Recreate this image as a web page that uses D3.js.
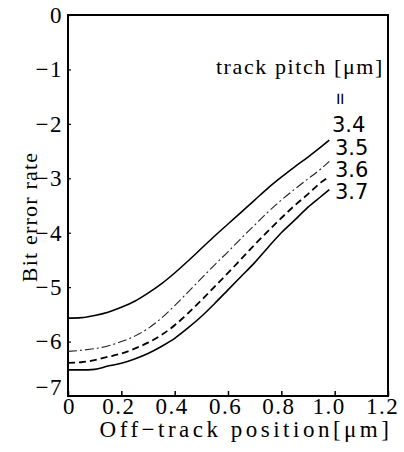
<!DOCTYPE html>
<html>
<head>
<meta charset="utf-8">
<script src="https://d3js.org/d3.v7.min.js"></script>
<style>
  body { margin: 0; background: #fff; }
  svg text { font-family: "Liberation Serif", "Times New Roman", Times, "DejaVu Serif", "Noto Serif", serif; fill: #000; }
</style>
</head>
<body>
<div id="chart"></div>
<script>
// off-track position [um]
var offTrack = [0, 0.05, 0.1, 0.15, 0.2, 0.25, 0.3, 0.35, 0.4, 0.45, 0.5, 0.55, 0.6, 0.65, 0.7, 0.75, 0.8, 0.85, 0.9, 0.95, 0.98];

// log10 bit error rate, one array per track pitch
var ber34 = [-5.57, -5.56, -5.52, -5.46, -5.37, -5.26, -5.11, -4.94, -4.74, -4.52, -4.29, -4.06, -3.84, -3.62, -3.40, -3.18, -2.98, -2.79, -2.61, -2.42, -2.30];
var ber35 = [-6.18, -6.16, -6.13, -6.08, -6.00, -5.90, -5.76, -5.57, -5.34, -5.09, -4.84, -4.59, -4.35, -4.10, -3.86, -3.62, -3.40, -3.20, -3.01, -2.82, -2.69];
var ber36 = [-6.39, -6.38, -6.34, -6.28, -6.22, -6.13, -6.02, -5.88, -5.70, -5.48, -5.24, -4.99, -4.74, -4.48, -4.22, -3.97, -3.73, -3.50, -3.29, -3.07, -2.97];
var ber37 = [-6.52, -6.52, -6.51, -6.45, -6.40, -6.32, -6.22, -6.09, -5.94, -5.75, -5.54, -5.30, -5.05, -4.80, -4.55, -4.27, -4.00, -3.77, -3.53, -3.33, -3.21];

var pitches = ["3.4", "3.5", "3.6", "3.7"];
var xTicks = [0, 0.2, 0.4, 0.6, 0.8, 1.0, 1.2];
var yTicks = [0, -1, -2, -3, -4, -5, -6, -7];

var series = [
  [pitches[0], ber34, null, 1.6, "#000"],
  [pitches[1], ber35, "9,3,2,3", 1.1, "#222"],
  [pitches[2], ber36, "7,4", 1.8, "#000"],
  [pitches[3], ber37, null, 1.6, "#000"]
];

var serif = "'Liberation Serif', 'Times New Roman', Times, 'DejaVu Serif', serif";

var width = 404, height = 452;

var xScale = d3.scaleLinear()
  .domain([0, 1.2])
  .range([68, 388]);

var yScale = d3.scaleLinear()
  .domain([-7, 0])
  .range([396, 15]);

var svg = d3.select("#chart").append("svg")
    .attr("width", width)
    .attr("height", height);

svg.append("rect")
  .attr("width", width)
  .attr("height", height)
  .attr("fill", "#fff");

// frame
svg.append("rect")
  .attr("x", xScale(0))
  .attr("y", yScale(0))
  .attr("width", xScale(1.2) - xScale(0))
  .attr("height", yScale(-7) - yScale(0))
  .attr("fill", "none")
  .attr("stroke", "#000")
  .attr("stroke-width", 2);

// x axis, ticks pointing inward
var xAxis = svg.append("g")
  .attr("class", "x axis")
  .attr("transform", "translate(0," + yScale(-7) + ")")
  .call(d3.axisBottom(xScale)
    .tickValues(xTicks)
    .tickSizeInner(-5)
    .tickSizeOuter(0)
    .tickPadding(3)
    .tickFormat(function(d) { return d === 0 ? "0" : d3.format(".1f")(d); }));

xAxis.attr("font-family", serif);
xAxis.select(".domain").remove();
xAxis.selectAll("line").attr("stroke-width", 1.5);
xAxis.selectAll("text")
  .attr("font-size", 23)
  .attr("letter-spacing", 1.5)
  .attr("dx", function(d) { return d === 0 ? 1 : (d >= 1 ? -6 : -3); })
  .attr("dy", "0.66em");

// y axis
var yAxis = svg.append("g")
  .attr("class", "y axis")
  .attr("transform", "translate(" + xScale(0) + ",0)")
  .call(d3.axisLeft(yScale)
    .tickValues(yTicks)
    .tickSizeInner(-3)
    .tickSizeOuter(0)
    .tickPadding(5)
    .tickFormat(d3.format("d")));

yAxis.attr("font-family", serif);
yAxis.select(".domain").remove();
yAxis.selectAll("line").attr("stroke-width", 1.2);
yAxis.selectAll("text")
  .attr("font-size", 23)
  .attr("letter-spacing", 1.5);
yAxis.selectAll(".tick")
  .filter(function(d) { return d === -7; })
  .select("text")
  .attr("dy", "-0.05em");

// curves
var line = d3.line()
  .x(function(d, i) { return xScale(offTrack[i]); })
  .y(function(d) { return yScale(d); })
  .curve(d3.curveMonotoneX);

for (var s in series) {
  svg.append("path")
    .datum(series[s][1])
    .attr("class", "line")
    .attr("fill", "none")
    .attr("stroke", series[s][4])
    .attr("stroke-width", series[s][3])
    .attr("stroke-dasharray", series[s][2])
    .attr("d", line);
}

// curve labels
var labelY = [132, 155, 177, 199];
for (var p in pitches) {
  svg.append("text")
    .attr("x", p == 0 ? 332 : 335)
    .attr("y", labelY[p])
    .attr("font-size", 21)
    .style("font-family", "'DejaVu Sans', sans-serif")
    .text(pitches[p]);
}

svg.append("text")
  .attr("x", 384)
  .attr("y", 74)
  .attr("text-anchor", "end")
  .attr("font-family", serif)
  .attr("font-size", 22)
  .attr("letter-spacing", 1.6)
  .text("track pitch [μm]");

svg.append("text")
  .attr("transform", "translate(340,99) rotate(90)")
  .attr("text-anchor", "middle")
  .attr("dy", "0.32em")
  .attr("font-size", 22)
  .attr("font-weight", "bold")
  .text("=");

// axis titles
svg.append("text")
  .attr("x", 246)
  .attr("y", 437)
  .attr("text-anchor", "middle")
  .attr("font-family", serif)
  .attr("font-size", 23)
  .attr("letter-spacing", 3.5)
  .text("Off−track position[μm]");

svg.append("text")
  .attr("transform", "translate(37,217) rotate(-90)")
  .attr("text-anchor", "middle")
  .attr("font-family", serif)
  .attr("font-size", 22)
  .attr("letter-spacing", 1.2)
  .text("Bit error rate");
</script>
</body>
</html>
